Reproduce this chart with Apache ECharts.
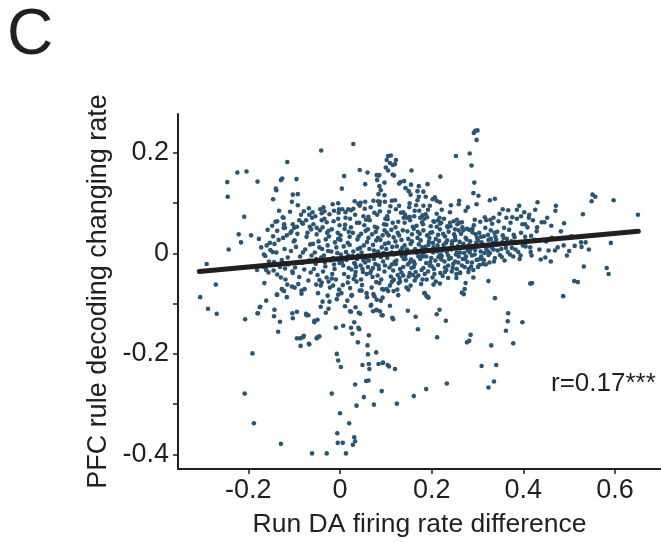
<!DOCTYPE html>
<html>
<head>
<meta charset="utf-8">
<script src="https://cdn.jsdelivr.net/npm/echarts@6/dist/echarts.min.js"></script>
<style>html,body{margin:0;padding:0;background:#fff}#c{width:661px;height:543px}</style>
</head>
<body>
<div id="c"></div>
<script>
// ---- data ----
const xTicks = [-0.2, 0, 0.2, 0.4, 0.6];
const yTicks = [-0.4, -0.3, -0.2, -0.1, 0, 0.1, 0.2];
const yLabels = [-0.4, -0.2, 0, 0.2];

const fitLine = [[-0.307, -0.036], [0.651, 0.044]];

const outlierPoints = [
[-0.246,0.142],[-0.245,0.113],[-0.224,0.161],[-0.204,0.163],[-0.180,0.143],[-0.209,0.073],[-0.243,0.008],[-0.221,0.038],[-0.216,0.022],[-0.194,0.036],
[-0.291,-0.021],[-0.271,-0.062],[-0.305,-0.087],[-0.288,-0.110],[-0.269,-0.120],[-0.207,-0.131],[-0.191,-0.199],[-0.208,-0.279],[-0.188,-0.338],[-0.129,-0.379],
[-0.061,-0.398],[-0.029,-0.398],[0.013,-0.398],[-0.006,-0.358],[-0.005,-0.377],[0.006,-0.377],[0.028,-0.381],[0.031,-0.366],[0.033,-0.374],[0.000,-0.318],
[0.020,-0.338],[-0.018,-0.279],[0.033,-0.261],[0.036,-0.303],[0.052,-0.286],[0.057,-0.254],[0.062,-0.253],[0.074,-0.301],[0.091,-0.274],[0.124,-0.299],
[-0.007,-0.200],[-0.004,-0.213],[0.002,-0.226],[-0.009,-0.148],[0.007,-0.144],[0.049,-0.222],[0.063,-0.220],[0.064,-0.230],[0.061,-0.201],[0.084,-0.220],
[0.094,-0.217],[0.104,-0.222],[0.107,-0.225],[0.120,-0.230],[0.079,-0.197],[0.060,-0.183],[0.063,-0.163],[0.039,-0.177],[0.042,-0.151],[0.027,-0.160],
[0.024,-0.148],[-0.094,-0.169],[-0.086,-0.184],[-0.081,-0.167],[-0.067,-0.181],[-0.051,-0.169],[-0.045,-0.165],[-0.135,-0.156],[-0.131,-0.136],[-0.144,-0.125],
[-0.143,-0.112],[-0.180,-0.119],[-0.174,-0.106],[-0.161,-0.094],[-0.165,-0.059],[-0.138,-0.082],[-0.127,-0.071],[-0.122,-0.075],[-0.116,-0.087],[-0.104,-0.119],
[-0.074,-0.120],[-0.069,-0.123],[-0.056,-0.137],[-0.049,-0.132],[0.031,-0.137],[0.041,-0.118],[0.022,-0.115],[0.040,-0.148],[0.068,-0.102],[0.072,-0.115],
[0.080,-0.112],[0.087,-0.115],[0.114,-0.128],
[-0.115,0.182],[-0.041,0.205],[0.029,0.218],[-0.129,0.146],[-0.126,0.149],[-0.095,0.148],[-0.140,0.129],[-0.139,0.126],[-0.103,0.117],[-0.092,0.118],
[0.009,0.154],[0.004,0.129],[0.043,0.166],[0.060,0.161],[0.055,0.138],[0.084,0.155],[-0.146,0.108],[-0.105,0.103],[-0.092,0.096],[-0.133,0.085],
[-0.068,0.090],[-0.060,0.082],
[0.105,0.194],[0.111,0.195],[0.102,0.186],[0.122,0.186],[0.109,0.180],[0.115,0.176],[0.120,0.178],[0.100,0.171],[0.105,0.165],[0.115,0.157],
[0.118,0.155],[0.156,0.165],[0.080,0.156],[0.086,0.156],[0.081,0.146],[0.097,0.141],[0.086,0.134],[0.089,0.126],[0.084,0.118],[0.097,0.116],
[0.073,0.105],[0.087,0.103],
[0.295,0.244],[0.300,0.245],[0.292,0.240],[0.298,0.226],[0.253,0.194],[0.283,0.199],[0.287,0.175],[0.293,0.141],[0.291,0.120],[0.302,0.115],
[0.219,0.153],[0.327,0.106],[0.338,0.109],[0.431,0.102],[0.471,0.095],[0.470,0.085],[0.551,0.117],[0.557,0.113],[0.549,0.104],[0.597,0.106],
[0.650,0.077],[0.530,0.078],[0.489,0.060],[0.461,0.055],[0.426,0.087],[0.391,0.095],[0.386,0.087],[0.413,0.077],[0.404,0.058],[0.417,0.035],
[0.488,0.016],[0.500,0.005],[0.526,0.022],[0.536,0.022],[0.527,0.013],[0.543,0.008],[0.591,0.021],[0.532,-0.026],[0.582,-0.029],[0.586,-0.041],
[0.511,-0.055],[0.519,-0.057],[0.460,-0.016],[0.469,0.006],[0.415,-0.060],[0.419,-0.059],[0.324,-0.055],[0.274,-0.059],
[0.132,0.142],[0.140,0.144],[0.129,0.139],[0.155,0.137],[0.143,0.130],[0.150,0.124],[0.154,0.117],[0.172,0.134],[0.191,0.138],[0.169,0.124],
[0.182,0.123],[0.172,0.113],[0.169,0.106],[0.187,0.113],[0.207,0.112],[0.211,0.105],[0.202,0.108],[0.218,0.102],[0.196,0.095],[0.182,0.095],
[0.192,0.087],[0.222,0.087],[0.211,0.079],[0.240,0.082],[0.242,0.096],[0.260,0.105],[0.259,0.098],[0.274,0.085],[0.279,0.092],[0.298,0.098],
[0.148,-0.114],[0.165,-0.126],[0.170,-0.151],[0.116,-0.131],[0.093,-0.123],[0.211,-0.121],[0.217,-0.112],[0.231,-0.134],[0.212,-0.167],[0.277,-0.177],
[0.282,-0.174],[0.285,-0.162],[0.330,-0.183],[0.309,-0.224],[0.341,-0.222],[0.336,-0.255],[0.324,-0.267],[0.233,-0.259],[0.188,-0.270],[0.161,-0.284],
[0.093,-0.218],[0.367,-0.119],[0.366,-0.135],[0.362,-0.154],[0.378,-0.179],[0.398,-0.137],[0.338,-0.089],[0.270,-0.081],[0.487,-0.085],[0.109,-0.104],
[0.192,-0.087],[0.184,-0.079]
];

const edgePoints = [
[0.319,0.066],[0.335,0.071],[0.255,0.067],[0.261,0.061],[0.240,0.061],[0.234,0.054],[0.251,0.048],[0.269,0.046],[0.289,0.049],[0.308,0.033],
[0.323,0.037],[0.329,0.029],[0.355,0.088],[0.367,0.086],[0.376,0.072],[0.395,0.074],[0.402,0.082],[0.421,0.066],[0.430,0.052],[0.446,0.062],
[-0.040,0.080],[-0.034,0.084],[-0.013,0.085],[-0.004,0.100],[-0.002,0.088],[-0.123,0.071],[-0.137,0.064],[-0.148,0.055],[-0.122,0.058],[-0.120,0.051],
[-0.137,0.045],[-0.146,0.034],[-0.124,0.031],[-0.108,0.041],[-0.100,0.051],[-0.089,0.066],[-0.081,0.059],[-0.067,0.077],[-0.066,0.053],[-0.051,0.051],
[-0.040,0.066],[-0.029,0.062],[-0.028,0.041],[-0.004,0.069],[-0.160,0.016],[-0.143,0.019],
[0.012,0.082],[0.018,0.088],[0.029,0.089],[0.040,0.099],[0.045,0.101],[0.055,0.103],[0.083,0.104],[0.098,0.103],[0.113,0.105],[0.120,0.106],
[0.138,0.082],[0.129,0.095],[0.152,0.100],[0.163,0.085],[0.152,0.073],[0.175,0.071],[0.180,0.076],[0.190,0.072],[0.204,0.064],[0.214,0.066],[0.218,0.059],
[-0.181,-0.033],[-0.161,-0.033],[-0.145,-0.034],[-0.175,-0.107],[-0.179,-0.119],[-0.137,-0.082],[-0.129,-0.048],[-0.126,-0.072],[-0.115,-0.062],[-0.105,-0.066],
[-0.103,-0.039],[-0.120,-0.030],[-0.166,-0.002],[-0.152,0.007],[-0.155,-0.016],[-0.084,-0.080],[-0.084,-0.074],[-0.099,-0.068],[-0.094,-0.116],[-0.103,-0.129],
[-0.073,-0.123],[-0.056,-0.134],[-0.052,-0.062],[-0.045,-0.053],[-0.040,-0.058],[-0.042,-0.106],[-0.025,-0.110],[-0.023,-0.096],[-0.038,-0.096],[-0.031,-0.118],
[-0.079,-0.164],[-0.087,-0.169],[-0.068,-0.180],[-0.049,-0.167],[-0.015,-0.064],[-0.018,-0.050],[-0.004,-0.082],[-0.025,-0.056],
[0.011,-0.105],[0.024,-0.116],[0.034,-0.107],[0.044,-0.120],[0.067,-0.104],[0.079,-0.113],[0.091,-0.123],[0.025,-0.084],[0.047,-0.074],[0.058,-0.079],
[0.075,-0.085],[0.080,-0.092],[0.089,-0.094],[0.095,-0.072],[0.102,-0.071],[0.113,-0.057],[0.117,-0.052],[0.117,-0.075],[0.127,-0.083],[0.131,-0.056],
[0.138,-0.044],[0.149,-0.072],[0.154,-0.064],[0.163,-0.054],[0.159,-0.043],[0.180,-0.052],[0.185,-0.079],[0.189,-0.085],[0.193,-0.088],[0.204,-0.062],
[0.209,-0.056],[0.218,-0.060],[0.229,-0.037],[0.236,-0.049],[0.254,-0.049],[0.255,-0.031],[0.262,-0.039],[0.291,-0.048],[0.280,-0.037],[0.304,-0.023],
[0.314,-0.013],[0.324,-0.003],[0.272,-0.071],[0.266,-0.078],
[0.450,0.024],[0.455,0.006],[0.462,0.031],[0.448,-0.008],[0.475,0.012],[0.482,0.044],[0.505,0.034],[0.512,0.015],[0.495,-0.004],[0.440,0.062],[0.452,0.071]
];

const corePointsLeft = [
[-0.172,0.012],[-0.163,-0.005],[-0.177,0.029],[-0.166,-0.027],
[-0.153,0.021],[-0.144,-0.017],[-0.158,0.047],[-0.147,0.003],[-0.141,0.063],[-0.156,-0.038],
[-0.134,0.027],[-0.127,-0.013],[-0.123,0.051],[-0.137,-0.042],[-0.121,0.009],[-0.139,0.002],[-0.125,0.072],[-0.131,-0.027],
[-0.116,0.036],[-0.107,0.005],[-0.113,-0.022],[-0.103,0.058],[-0.119,-0.052],[-0.101,0.024],[-0.109,0.083],[-0.114,-0.008],[-0.104,-0.036],[-0.106,0.044],
[-0.096,0.013],[-0.087,-0.006],[-0.093,0.039],[-0.083,0.061],[-0.098,-0.028],[-0.081,0.002],[-0.089,-0.047],[-0.085,0.077],[-0.094,0.053],[-0.082,-0.019],[-0.099,0.026],[-0.091,-0.061],
[-0.076,0.008],[-0.067,-0.014],[-0.073,0.033],[-0.063,0.048],[-0.078,-0.032],[-0.061,0.071],[-0.069,-0.054],[-0.074,0.066],[-0.065,0.018],[-0.062,-0.004],[-0.077,-0.071],[-0.071,0.041],[-0.064,-0.038],[-0.079,0.084],
[-0.055,0.002],[-0.047,0.024],[-0.053,-0.021],[-0.044,0.046],[-0.058,0.058],[-0.041,-0.008],[-0.049,-0.043],[-0.054,0.074],[-0.045,0.012],[-0.042,-0.064],[-0.057,-0.031],[-0.051,0.038],[-0.043,0.088],[-0.059,0.019],[-0.048,-0.079],[-0.052,-0.011],
[-0.035,-0.004],[-0.027,0.016],[-0.032,-0.026],[-0.024,0.034],[-0.038,0.052],[-0.021,-0.014],[-0.029,-0.048],[-0.034,0.069],[-0.026,0.005],[-0.022,-0.068],[-0.037,-0.036],[-0.031,0.028],[-0.023,0.078],[-0.039,0.009],[-0.027,-0.084],[-0.033,-0.018],[-0.025,0.045],[-0.036,0.092],
[-0.015,-0.009],[-0.008,0.012],[-0.012,-0.031],[-0.004,0.029],[-0.018,0.048],[-0.001,-0.019],[-0.009,-0.052],[-0.014,0.064],[-0.006,0.001],[-0.002,-0.072],[-0.017,-0.041],[-0.011,0.022],[-0.003,0.081],[-0.019,0.004],[-0.007,-0.091],[-0.013,-0.022],[-0.005,0.041],[-0.016,0.098],[-0.010,-0.012],[-0.001,0.056]
];

const corePointsMid = [
[0.004,-0.017],[0.013,0.003],[0.009,-0.041],[0.017,0.021],[0.001,0.036],[0.019,-0.029],[0.006,-0.063],[0.011,0.057],[0.015,-0.008],[0.003,-0.079],[0.018,-0.047],[0.008,0.014],[0.012,0.071],[0.002,-0.002],[0.016,-0.094],[0.007,-0.024],[0.019,0.043],[0.005,0.088],[0.014,-0.013],[0.010,0.049],[0.017,-0.058],[0.001,0.027],
[0.027,-0.005],[0.021,0.017],[0.034,-0.037],[0.039,0.009],[0.024,0.052],[0.031,-0.019],[0.036,-0.056],[0.022,0.069],[0.038,0.028],[0.026,-0.083],[0.033,-0.044],[0.029,0.004],[0.024,0.086],[0.037,-0.011],[0.022,-0.069],[0.035,-0.027],[0.028,0.041],[0.032,0.104],[0.039,-0.004],[0.021,0.033],[0.030,-0.051],[0.037,0.061],[0.025,-0.032],[0.033,0.077],
[0.044,0.011],[0.057,-0.009],[0.049,-0.031],[0.041,0.034],[0.053,0.056],[0.046,-0.052],[0.059,0.023],[0.043,-0.074],[0.051,0.074],[0.055,-0.018],[0.047,0.002],[0.058,-0.041],[0.042,0.061],[0.054,0.089],[0.048,-0.063],[0.045,-0.024],[0.056,0.045],[0.041,-0.006],[0.052,0.016],[0.059,-0.087],[0.046,0.039],[0.050,-0.037],[0.057,0.067],[0.043,0.095],
[0.063,-0.014],[0.074,0.006],[0.068,-0.034],[0.079,0.026],[0.061,0.048],[0.071,-0.047],[0.077,-0.021],[0.065,0.066],[0.072,0.017],[0.069,-0.068],[0.078,-0.002],[0.062,0.031],[0.075,0.081],[0.066,-0.039],[0.073,-0.081],[0.064,0.009],[0.076,0.053],[0.061,-0.027],[0.070,0.038],[0.079,-0.057],[0.067,0.092],[0.074,-0.011],[0.062,0.073],[0.078,0.043],
[0.083,0.004],[0.094,-0.016],[0.088,0.027],[0.097,-0.036],[0.081,0.051],[0.091,0.012],[0.086,-0.059],[0.099,0.069],[0.084,-0.024],[0.093,0.036],[0.089,-0.007],[0.082,-0.044],[0.096,0.058],[0.087,0.084],[0.092,-0.071],[0.098,0.019],[0.085,-0.031],[0.095,0.001],[0.081,0.077],[0.090,-0.052],[0.097,0.046],[0.086,0.097],[0.093,-0.088],[0.083,0.031],
[0.103,-0.009],[0.114,0.013],[0.108,-0.028],[0.117,0.032],[0.101,0.057],[0.111,-0.046],[0.106,0.021],[0.119,-0.017],[0.104,0.068],[0.113,0.002],[0.109,-0.064],[0.102,0.041],[0.116,-0.034],[0.107,0.083],[0.112,0.047],[0.118,-0.002],[0.105,-0.075],[0.115,0.061],[0.101,0.009],[0.110,0.094],[0.117,-0.053],[0.106,0.036],[0.113,-0.022],[0.103,0.074],
[0.124,0.014],[0.135,-0.005],[0.129,0.036],[0.138,-0.027],[0.121,0.052],[0.132,0.006],[0.126,-0.043],[0.139,0.071],[0.123,-0.014],[0.134,0.027],[0.128,-0.059],[0.137,0.046],[0.122,0.088],[0.131,-0.031],[0.127,0.063],[0.136,0.011],[0.125,-0.072],[0.133,0.081],[0.139,-0.011],[0.121,0.024],[0.130,-0.049],[0.126,0.041],
[0.143,-0.003],[0.154,0.019],[0.148,-0.022],[0.157,0.038],[0.141,0.061],[0.152,-0.039],[0.146,0.008],[0.159,0.053],[0.144,-0.054],[0.155,-0.012],[0.149,0.029],[0.142,0.077],[0.156,-0.029],[0.147,0.044],[0.151,0.092],[0.158,0.003],[0.145,-0.068],[0.153,0.066],[0.141,0.016],[0.150,-0.046],[0.157,0.024],[0.146,0.071],
[0.164,0.009],[0.175,-0.011],[0.169,0.031],[0.178,-0.033],[0.161,0.049],[0.172,0.018],[0.166,-0.048],[0.179,0.062],[0.163,-0.021],[0.174,0.039],[0.168,0.001],[0.177,-0.061],[0.162,0.074],[0.171,-0.006],[0.167,0.055],[0.176,0.026],[0.165,-0.037],[0.173,0.085],[0.179,0.012],[0.161,-0.016],[0.170,0.043],[0.166,0.096]
];

const corePointsRight = [
[0.183,0.002],[0.194,0.023],[0.188,-0.019],[0.197,0.041],[0.181,0.058],[0.192,-0.036],[0.186,0.013],[0.199,-0.009],[0.184,0.069],[0.195,0.031],[0.189,-0.052],[0.182,0.046],[0.196,-0.024],[0.187,0.078],[0.191,0.007],[0.198,0.054],[0.185,-0.041],[0.193,0.017],[0.181,-0.006],[0.190,0.036],
[0.204,0.012],[0.215,-0.007],[0.209,0.029],[0.218,0.048],[0.201,-0.026],[0.212,0.004],[0.206,0.063],[0.219,-0.039],[0.203,0.021],[0.214,0.037],[0.208,-0.014],[0.217,0.071],[0.202,-0.048],[0.211,0.053],[0.207,0.008],[0.216,0.025],[0.205,-0.031],[0.213,0.016],[0.219,-0.002],[0.201,0.042],
[0.223,0.006],[0.234,0.026],[0.228,-0.016],[0.237,0.043],[0.221,0.061],[0.232,-0.033],[0.226,0.017],[0.239,0.009],[0.224,-0.045],[0.235,0.052],[0.229,0.034],[0.222,-0.005],[0.236,-0.024],[0.227,0.069],[0.231,0.021],[0.238,-0.011],[0.225,0.039],[0.233,0.003],
[0.244,0.019],[0.255,0.002],[0.249,0.038],[0.258,-0.018],[0.241,0.054],[0.252,0.027],[0.246,-0.029],[0.259,0.046],[0.243,0.008],[0.254,-0.041],[0.248,0.064],[0.257,0.014],[0.242,-0.009],[0.251,0.033],[0.247,-0.021],[0.256,0.058],[0.245,0.024],[0.253,-0.002],
[0.263,0.011],[0.274,0.031],[0.268,-0.011],[0.277,0.049],[0.261,0.023],[0.272,-0.027],[0.266,0.062],[0.279,0.006],[0.264,0.039],[0.275,-0.006],[0.269,0.019],[0.262,-0.038],[0.276,0.028],[0.267,0.052],[0.271,0.001],[0.278,-0.017],
[0.284,0.024],[0.295,0.007],[0.289,0.042],[0.298,-0.013],[0.281,0.016],[0.292,0.056],[0.286,-0.026],[0.299,0.031],[0.283,0.002],[0.294,0.067],[0.288,-0.004],[0.297,0.021],[0.282,0.047],[0.291,-0.033],[0.287,0.012],[0.296,0.038],
[0.303,0.014],[0.314,0.034],[0.308,-0.006],[0.317,0.051],[0.301,0.026],[0.312,-0.021],[0.306,0.063],[0.319,0.009],[0.304,0.041],[0.315,0.001],[0.309,0.022],[0.302,-0.012],[0.316,0.072],[0.311,0.018],
[0.324,0.027],[0.335,0.008],[0.329,0.046],[0.338,-0.009],[0.321,0.014],[0.332,0.059],[0.326,-0.018],[0.339,0.033],[0.323,0.004],[0.334,0.021],[0.328,0.067],[0.337,0.041],
[0.344,0.018],[0.355,0.036],[0.349,-0.003],[0.358,0.051],[0.341,0.027],[0.352,0.009],[0.346,0.064],[0.359,-0.014],[0.343,0.043],[0.354,0.022],[0.348,0.079],[0.357,0.031],
[0.364,0.029],[0.375,0.011],[0.369,0.047],[0.378,-0.006],[0.361,0.019],[0.372,0.061],[0.366,0.003],[0.379,0.037],[0.363,0.071],[0.374,0.024],
[0.384,0.021],[0.395,0.041],[0.389,0.003],[0.398,0.058],[0.381,0.032],[0.392,-0.011],[0.386,0.069],[0.399,0.016],
[0.404,0.033],[0.415,0.012],[0.409,0.052],[0.418,-0.004],[0.401,0.021],[0.412,0.071],
[0.424,0.027],[0.435,0.008],[0.429,0.044],[0.438,-0.012]
];

const denseBandPoints = [
[0.152,-0.018],[0.161,-0.027],[0.171,-0.044],[0.182,-0.029],[0.188,-0.006],[0.197,-0.017],[0.206,-0.041],[0.214,-0.023],[0.221,-0.012],[0.229,-0.028],
[0.236,-0.004],[0.244,-0.036],[0.251,-0.016],[0.259,-0.006],[0.266,-0.024],[0.273,-0.011],[0.281,-0.031],[0.288,-0.018],[0.294,-0.002],[0.301,-0.027],
[0.309,-0.011],[0.318,-0.022],[0.327,0.001],[0.336,-0.016],[0.344,0.006],[0.353,-0.007],[0.362,0.011],[0.371,-0.002],[0.383,0.008],[0.394,-0.004],
[0.405,0.014],[0.416,0.003],[0.178,-0.004],[0.203,0.002],[0.226,0.009],[0.249,0.011],[0.262,0.002],[0.285,0.009],[0.307,0.004],[0.331,0.012],
[0.122,-0.021],[0.134,-0.038],[0.143,-0.011],[0.098,-0.024],[0.072,-0.029],[0.051,-0.014],[0.033,-0.021],[0.018,-0.004]
];

const allPoints = outlierPoints.concat(edgePoints, corePointsLeft, corePointsMid, corePointsRight, denseBandPoints);

// ---- chart ----
const FONT = '"Liberation Sans", Arial, sans-serif';
const INK = '#231f20';
const chart = echarts.init(document.getElementById('c'), null, {renderer: 'canvas'});
const fmt = v => (Math.abs(v) < 1e-9 ? '0' : v.toFixed(1));

chart.setOption({
  animation: false,
  backgroundColor: '#ffffff',
  grid: {left: 178, right: 0, top: 114, bottom: 70, containLabel: false},
  xAxis: {
    type: 'value', min: -0.3535, max: 0.7004,
    name: 'Run DA firing rate difference', nameLocation: 'middle', nameGap: 42,
    nameTextStyle: {fontFamily: FONT, fontSize: 26.5, color: INK},
    axisLine: {show: true, onZero: false, lineStyle: {color: INK, width: 2}},
    axisTick: {show: true, length: 5, lineStyle: {color: INK, width: 1.5}, customValues: xTicks},
    axisLabel: {fontFamily: FONT, fontSize: 27, color: INK, margin: 8, customValues: xTicks, formatter: fmt},
    splitLine: {show: false}
  },
  yAxis: {
    type: 'value', min: -0.4291, max: 0.2776,
    name: 'PFC rule decoding changing rate', nameLocation: 'middle', nameGap: 64, nameRotate: 90,
    nameTextStyle: {fontFamily: FONT, fontSize: 27, color: INK},
    axisLine: {show: true, onZero: false, lineStyle: {color: INK, width: 2}},
    axisTick: {show: true, length: 5, lineStyle: {color: INK, width: 1.5}, customValues: yTicks},
    axisLabel: {fontFamily: FONT, fontSize: 27, color: INK, margin: 9, customValues: yLabels, formatter: fmt},
    splitLine: {show: false}
  },
  series: [
    {
      type: 'scatter', data: allPoints, symbol: 'circle', symbolSize: 4.6,
      itemStyle: {color: '#2a5674', opacity: 1}, z: 2, silent: true
    },
    {
      type: 'line', data: fitLine, symbol: 'none', z: 3, silent: true,
      lineStyle: {color: INK, width: 5, cap: 'round'}
    }
  ],
  graphic: [
    {type: 'text', left: 7, top: 4, z: 10,
     style: {text: 'C', fontFamily: FONT, fontSize: 64, fill: INK}},
    {type: 'text', left: 551, top: 371, z: 10,
     style: {text: 'r=0.17***', fontFamily: FONT, fontSize: 26, fill: INK}}
  ]
});
</script>
</body>
</html>
